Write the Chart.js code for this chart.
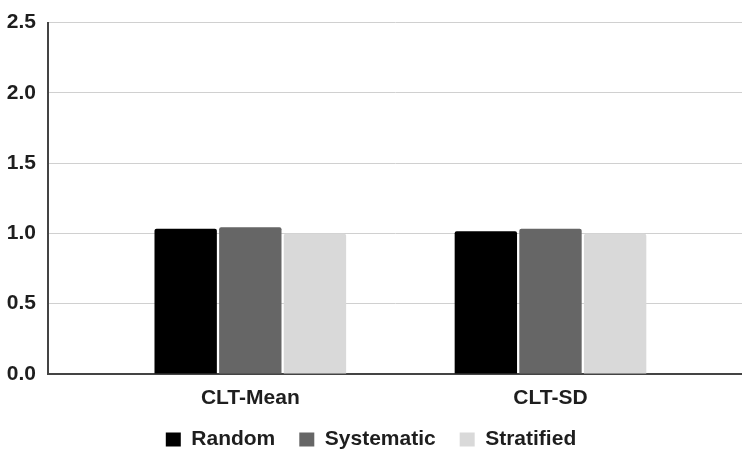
<!DOCTYPE html>
<html>
<head>
<meta charset="utf-8">
<script src="https://cdn.jsdelivr.net/npm/chart.js@4.4.0/dist/chart.umd.min.js"></script>
<style>
  html, body { margin: 0; padding: 0; background: #fff; }
  #wrap { width: 742px; height: 452px; }
</style>
</head>
<body>
<div id="wrap"><canvas id="myChart" width="742" height="452"></canvas></div>
<script>
// chart data
var categories = ['CLT-Mean', 'CLT-SD'];
var series_names = ['Random', 'Systematic', 'Stratified'];
var random_values = [1.033, 1.016];
var systematic_values = [1.044, 1.033];
var stratified_values = [0.997, 0.997];
var y_ticks = [0, 0.5, 1.0, 1.5, 2.0, 2.5];

var FONT = "'Liberation Sans', Arial, sans-serif";
var TEXT_COLOR = '#1e1e1e';

// bars sit on a linear x axis so the two groups can be placed like the original
function toPoints(values) {
  var out = [];
  for (var i = 0; i < values.length; i++) {
    out.push({ x: i, y: values[i] });
  }
  return out;
}

function chart_init() {
  var ctx = document.getElementById('myChart').getContext('2d');
  var chart = new Chart(ctx, {
    type: 'bar',
    data: {
      datasets: [{
        label: series_names[0],
        data: toPoints(random_values),
        backgroundColor: '#000000'
      }, {
        label: series_names[1],
        data: toPoints(systematic_values),
        backgroundColor: '#666666'
      }, {
        label: series_names[2],
        data: toPoints(stratified_values),
        backgroundColor: '#d9d9d9'
      }]
    },
    options: {
      responsive: false,
      animation: false,
      devicePixelRatio: 1,
      layout: { padding: { top: 0, right: 0, bottom: -8, left: 0 } },
      datasets: {
        bar: {
          categoryPercentage: 0.646,
          barPercentage: 0.965,
          borderWidth: 0,
          borderRadius: 2
        }
      },
      plugins: {
        legend: {
          position: 'bottom',
          labels: {
            color: TEXT_COLOR,
            font: { family: FONT, size: 21, weight: 'bold' },
            boxWidth: 15,
            boxHeight: 14,
            padding: 24
          }
        },
        tooltip: { enabled: false }
      },
      scales: {
        x: {
          type: 'linear',
          offset: false,
          min: -0.674,
          max: 1.638,
          afterBuildTicks: function(scale) {
            scale.ticks = categories.map(function(c, i) { return { value: i }; });
          },
          afterFit: function(scale) { scale.height = 31; },
          ticks: {
            color: TEXT_COLOR,
            font: { family: FONT, size: 21, weight: 'bold' },
            padding: 12,
            maxRotation: 0,
            autoSkip: false,
            callback: function(value) { return categories[value]; }
          },
          grid: { display: false, drawTicks: false, offset: false },
          border: { display: true, color: '#444444', width: 2 }
        },
        y: {
          min: 0,
          max: 2.5,
          afterFit: function(scale) { scale.width = 48; },
          afterBuildTicks: function(scale) {
            scale.ticks = y_ticks.map(function(v) { return { value: v }; });
          },
          ticks: {
            color: TEXT_COLOR,
            font: { family: FONT, size: 21, weight: 'bold', lineHeight: 1 },
            padding: 12,
            callback: function(value) { return Number(value).toFixed(1); }
          },
          grid: { color: '#d0d0d0', lineWidth: 1, drawTicks: false },
          border: { display: true, color: '#444444', width: 2 }
        }
      }
    }
  });
  return chart;
}

chart_init();
</script>
</body>
</html>
